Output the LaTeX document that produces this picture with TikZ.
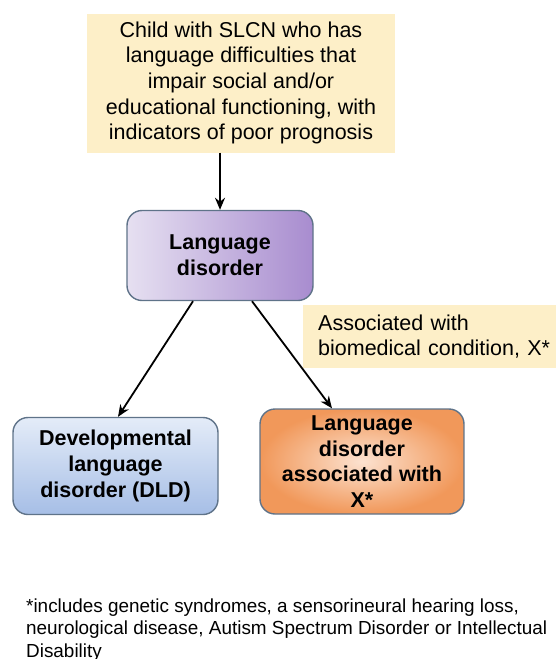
\documentclass[tikz,border=0pt]{standalone}
\usepackage{fontspec}
\setmainfont{Liberation Sans}
\usetikzlibrary{arrows.meta,shadings,calc}
\definecolor{pale}{HTML}{FDEFC8}
\definecolor{bordr}{HTML}{5F7389}
\definecolor{lavL}{HTML}{E6E0F1}
\definecolor{lavR}{HTML}{A88CCF}
\definecolor{bluT}{HTML}{E4ECF8}
\definecolor{bluB}{HTML}{A6BEE6}
\definecolor{orgC}{HTML}{FCE2D0}
\definecolor{orgE}{HTML}{F1985A}
\tikzset{
  notebox/.style={fill=pale, inner sep=0pt, font=\fontsize{21.5}{25.6}\selectfont},
  catbox/.style={draw=bordr, line width=1.4pt, rounded corners=15pt, inner sep=0pt, align=center, font=\bfseries\fontsize{21.5}{25.8}\selectfont},
  arr/.style={-{Stealth[length=12pt,width=10pt]}, line width=1.8pt, black}
}
\begin{document}
\begin{tikzpicture}[x=1pt,y=-1pt]
\useasboundingbox (0,0) rectangle (555,659);
\node[notebox, minimum width=308pt, minimum height=139pt, align=center] (top) at (241,83)
  {Child with SLCN who has\\language difficulties that\\impair social and/or\\educational functioning, with\\indicators of poor prognosis};
\node[catbox, left color=lavL, right color=lavR, minimum width=186pt, minimum height=90pt] (ld) at (220,255.5) {Language\\disorder};
\node[notebox, anchor=west, minimum height=63pt, inner xsep=15pt, align=left, text width=240pt] (assoc) at (303,336.5) {Associated with\\biomedical condition, X*};
\node[catbox, top color=bluT, bottom color=bluB, minimum width=205pt, minimum height=97pt] (dld) at (115.5,466) {Developmental\\language\\disorder (DLD)};
\node[catbox, inner color=orgC, outer color=orgE, minimum width=204pt, minimum height=105pt] (ldx) at (362,461.5) {Language\\disorder\\associated with\\X*};
\node[anchor=base west, align=left, inner sep=0pt, font=\fontsize{18.9}{22.3}\selectfont] (foot) at (26,657)
  {*includes genetic syndromes, a sensorineural hearing loss,\\neurological disease, Autism Spectrum Disorder or Intellectual\\Disability};
\coordinate (s1) at ($(ld.south)+(-27,0)$);
\coordinate (s2) at ($(ld.south)+(32,0)$);
\coordinate (e1) at ($(dld.north)+(2.5,0)$);
\coordinate (e2) at ($(ldx.north)+(-30,0)$);
\draw[arr] (top.south -| ld.north) -- (ld.north);
\draw[arr] (s1) -- (e1);
\draw[arr] (s2) -- (e2);
\end{tikzpicture}
\end{document}
